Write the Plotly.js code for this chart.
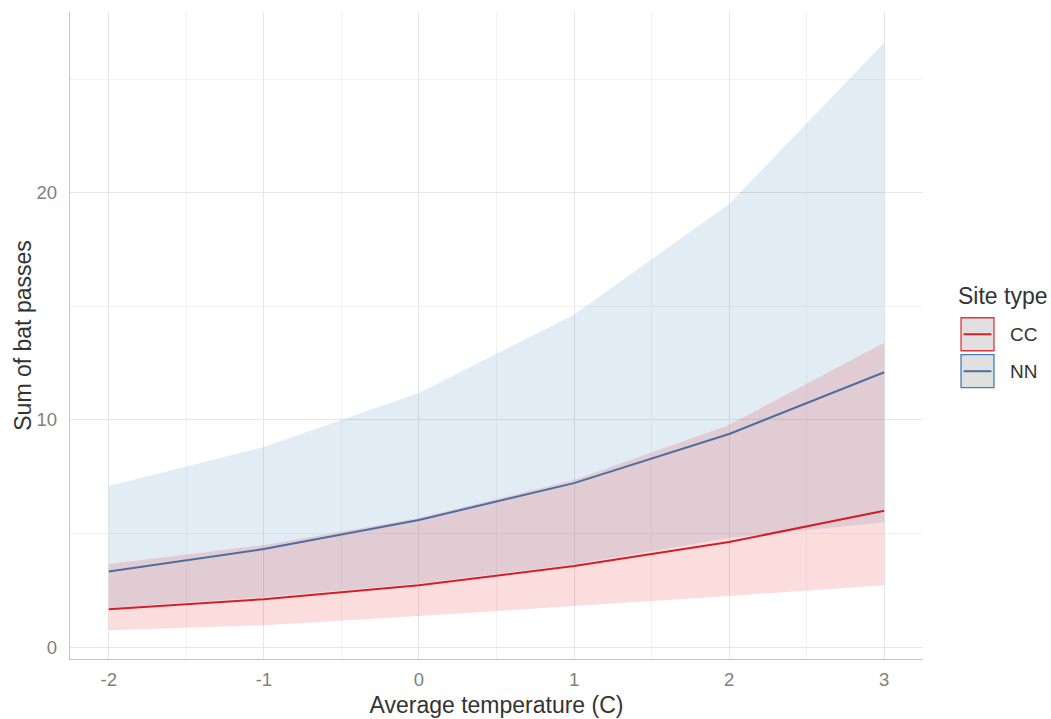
<!DOCTYPE html>
<html>
<head>
<meta charset="utf-8">
<script src="https://cdn.plot.ly/plotly-3.0.1.min.js"></script>
<style>html,body{margin:0;padding:0;background:#fff;}#chart{width:1051px;height:719px;}</style>
</head>
<body>
<div id="chart"></div>
<script>
// Predicted bat passes against average temperature, by site type
const temperature = [-2, -1, 0, 1, 2, 3];

const ccFit   = [1.67, 2.11, 2.73, 3.57, 4.63, 6.0];
const ccLower = [0.75, 0.97, 1.37, 1.80, 2.25, 2.73];
const ccUpper = [3.66, 4.49, 5.68, 7.36, 9.78, 13.4];

const nnFit   = [3.33, 4.32, 5.60, 7.22, 9.38, 12.1];
const nnLower = [1.72, 2.20, 2.80, 3.65, 4.80, 5.50];
const nnUpper = [7.09, 8.81, 11.19, 14.63, 19.5, 26.6];

const siteTypes = ['CC', 'NN'];
const yTicks = [0, 10, 20];
const xTicks = [-2, -1, 0, 1, 2, 3];

const ccLine = '#d0202a', nnLine = '#4c6ea3';
const ccFill = 'rgba(228,26,28,0.15)', nnFill = 'rgba(55,126,184,0.15)';

function band(lower, upper, fill) {
  return [
    {x: temperature, y: lower, mode: 'lines', line: {width: 0}, hoverinfo: 'skip', showlegend: false},
    {x: temperature, y: upper, mode: 'lines', line: {width: 0}, fill: 'tonexty', fillcolor: fill, hoverinfo: 'skip', showlegend: false}
  ];
}

const data = [
  ...band(nnLower, nnUpper, nnFill),
  ...band(ccLower, ccUpper, ccFill),
  {x: temperature, y: nnFit, mode: 'lines', name: siteTypes[1], line: {color: nnLine, width: 2}, showlegend: false},
  {x: temperature, y: ccFit, mode: 'lines', name: siteTypes[0], line: {color: ccLine, width: 2}, showlegend: false}
];

const family = 'Liberation Sans, Arial, sans-serif';

// legend drawn in paper coordinates to the right of the plot
const keyX0 = 1.0446, keyX1 = 1.0832;
const keys = [
  {label: siteTypes[0], y0: 0.4764, y1: 0.5274, border: '#e3343a', line: ccLine},
  {label: siteTypes[1], y0: 0.4193, y1: 0.4703, border: '#3d7fbd', line: nnLine}
];
const shapes = [];
const annotations = [
  {xref: 'paper', yref: 'paper', x: 1.039, y: 0.5614, xanchor: 'left', yanchor: 'middle',
   text: 'Site type', showarrow: false, font: {family: family, size: 23, color: '#333333'}}
];
keys.forEach(k => {
  shapes.push({type: 'rect', xref: 'paper', yref: 'paper', x0: keyX0, x1: keyX1, y0: k.y0, y1: k.y1,
               fillcolor: '#e0e0e0', line: {color: k.border, width: 1.3}});
  const ym = (k.y0 + k.y1) / 2;
  shapes.push({type: 'line', xref: 'paper', yref: 'paper', x0: keyX0 + 0.003, x1: keyX1 - 0.003, y0: ym, y1: ym,
               line: {color: k.line, width: 2}});
  annotations.push({xref: 'paper', yref: 'paper', x: 1.0995, y: ym, xanchor: 'left', yanchor: 'middle',
                    text: k.label, showarrow: false, font: {family: family, size: 19, color: '#333333'}});
});

// y-axis title placed beside the tick labels
annotations.push({xref: 'paper', yref: 'paper', x: -0.056, y: 0.5, xanchor: 'center', yanchor: 'middle',
                  textangle: -90, text: 'Sum of bat passes', showarrow: false,
                  font: {family: family, size: 23, color: '#333333'}});

const axisFont = {family: family, size: 18.5, color: '#7f7f7f'};
const titleFont = {family: family, size: 23, color: '#333333'};

const layout = {
  width: 1051, height: 719,
  margin: {l: 70, r: 128, t: 12, b: 60},
  paper_bgcolor: '#ffffff', plot_bgcolor: '#ffffff',
  showlegend: false,
  xaxis: {
    range: [-2.25, 3.25], tickvals: xTicks, ticktext: xTicks.map(String),
    showgrid: true, gridcolor: '#e6e6e6', gridwidth: 1,
    minor: {dtick: 0.5, showgrid: true, gridcolor: '#f2f2f2', gridwidth: 1},
    zeroline: false, showline: true, linecolor: '#c4c4c4', linewidth: 1.3,
    ticks: '', ticklen: 0, tickfont: axisFont, ticklabelstandoff: 3,
    title: {text: 'Average temperature (C)', font: titleFont, standoff: 8}
  },
  yaxis: {
    range: [-0.52, 27.95], tickvals: yTicks, ticktext: yTicks.map(String),
    showgrid: true, gridcolor: '#e6e6e6', gridwidth: 1,
    minor: {dtick: 5, showgrid: true, gridcolor: '#f2f2f2', gridwidth: 1},
    zeroline: false, showline: true, linecolor: '#c4c4c4', linewidth: 1.3,
    ticks: '', ticklen: 0, tickfont: axisFont, ticklabelstandoff: 8
  },
  shapes: shapes,
  annotations: annotations
};

Plotly.newPlot('chart', data, layout, {displayModeBar: false, staticPlot: true});
</script>
</body>
</html>
